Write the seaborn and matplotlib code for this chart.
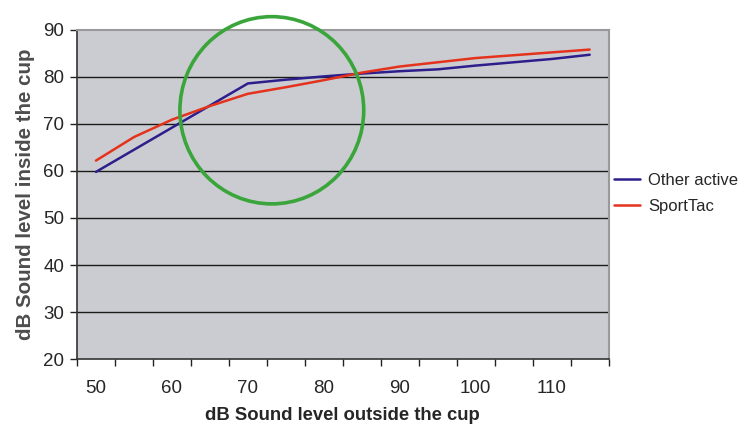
import pandas as pd
import matplotlib
matplotlib.use("Agg")
import matplotlib.pyplot as plt
import seaborn as sns
from matplotlib.patches import Ellipse

# ------------------------------
# Data
# ------------------------------
outside_db = [50, 55, 60, 65, 70, 75, 80, 85, 90, 95, 100, 105, 110, 115]
other_active = [59.8, 64.5, 69.2, 73.9, 78.6, 79.4, 80.1, 80.7, 81.2, 81.6, 82.4, 83.1, 83.8, 84.7]
sporttac = [62.2, 67.2, 70.9, 73.8, 76.4, 77.8, 79.3, 80.9, 82.2, 83.1, 84.0, 84.6, 85.2, 85.8]
x_labels = ["50", "60", "70", "80", "90", "100", "110"]
y_ticks = [20, 30, 40, 50, 60, 70, 80, 90]

df = pd.DataFrame({
    "pos": list(range(len(outside_db))) * 2,
    "level": other_active + sporttac,
    "series": ["Other active"] * len(outside_db) + ["SportTac"] * len(outside_db),
})

sns.set_theme(style="white")
plt.rcParams['font.family'] = ['Liberation Sans', 'DejaVu Sans']

fig = plt.figure(figsize=(7.51, 4.26), dpi=100)
ax = fig.add_axes([0.1025, 0.157, 0.708, 0.773])
ax.set_facecolor("#cbccd1")

# horizontal gridlines
for v in y_ticks[1:-1]:
    ax.axhline(v, color="#1a1a1a", lw=1.0, zorder=1)

sns.lineplot(data=df, x="pos", y="level", hue="series",
             palette={"Other active": "#2c1f8c", "SportTac": "#e5321c"},
             linewidth=1.8, ax=ax, zorder=3)

# green highlight circle
ax.add_patch(Ellipse((4.63, 72.9), width=4.84, height=39.8, fill=False,
                     edgecolor="#3aa53a", lw=2.6, zorder=4, clip_on=False))

ax.set_xlim(-0.5, len(outside_db) - 0.5)
ax.set_ylim(20, 90)
ax.set_yticks(y_ticks)
ax.set_yticklabels([str(v) for v in y_ticks], fontsize=13.5)

# category boundaries as tick marks, labels every second category
ax.set_xticks([i - 0.5 for i in range(len(outside_db) + 1)])
ax.set_xticklabels([])
ax.set_xticks(list(range(0, len(outside_db), 2)), minor=True)
ax.set_xticklabels(x_labels, minor=True, fontsize=13.5)
ax.tick_params(axis="x", which="major", direction="out", length=5, width=1, color="#222222", bottom=True)
ax.tick_params(axis="x", which="minor", length=0, pad=15)
ax.tick_params(axis="y", direction="out", length=5, width=1, color="#222222", left=True, pad=4)

for side in ["top", "right"]:
    ax.spines[side].set_color("#999999")
    ax.spines[side].set_linewidth(1.5)
for side in ["left", "bottom"]:
    ax.spines[side].set_color("#333333")
    ax.spines[side].set_linewidth(1.2)

ax.set_xlabel("dB Sound level outside the cup", fontsize=13.3, fontweight="bold", labelpad=7)
ax.set_ylabel("dB Sound level inside the cup", fontsize=14.8, fontweight="bold", color="#4d4d4d", labelpad=6)

ax.legend(title=None, frameon=False, fontsize=12, loc="center left",
          bbox_to_anchor=(1.0094, 0.503), borderaxespad=0, borderpad=0,
          handlelength=1.6, handletextpad=0.45, labelspacing=0.65)

fig.savefig("out.png", dpi=100)
